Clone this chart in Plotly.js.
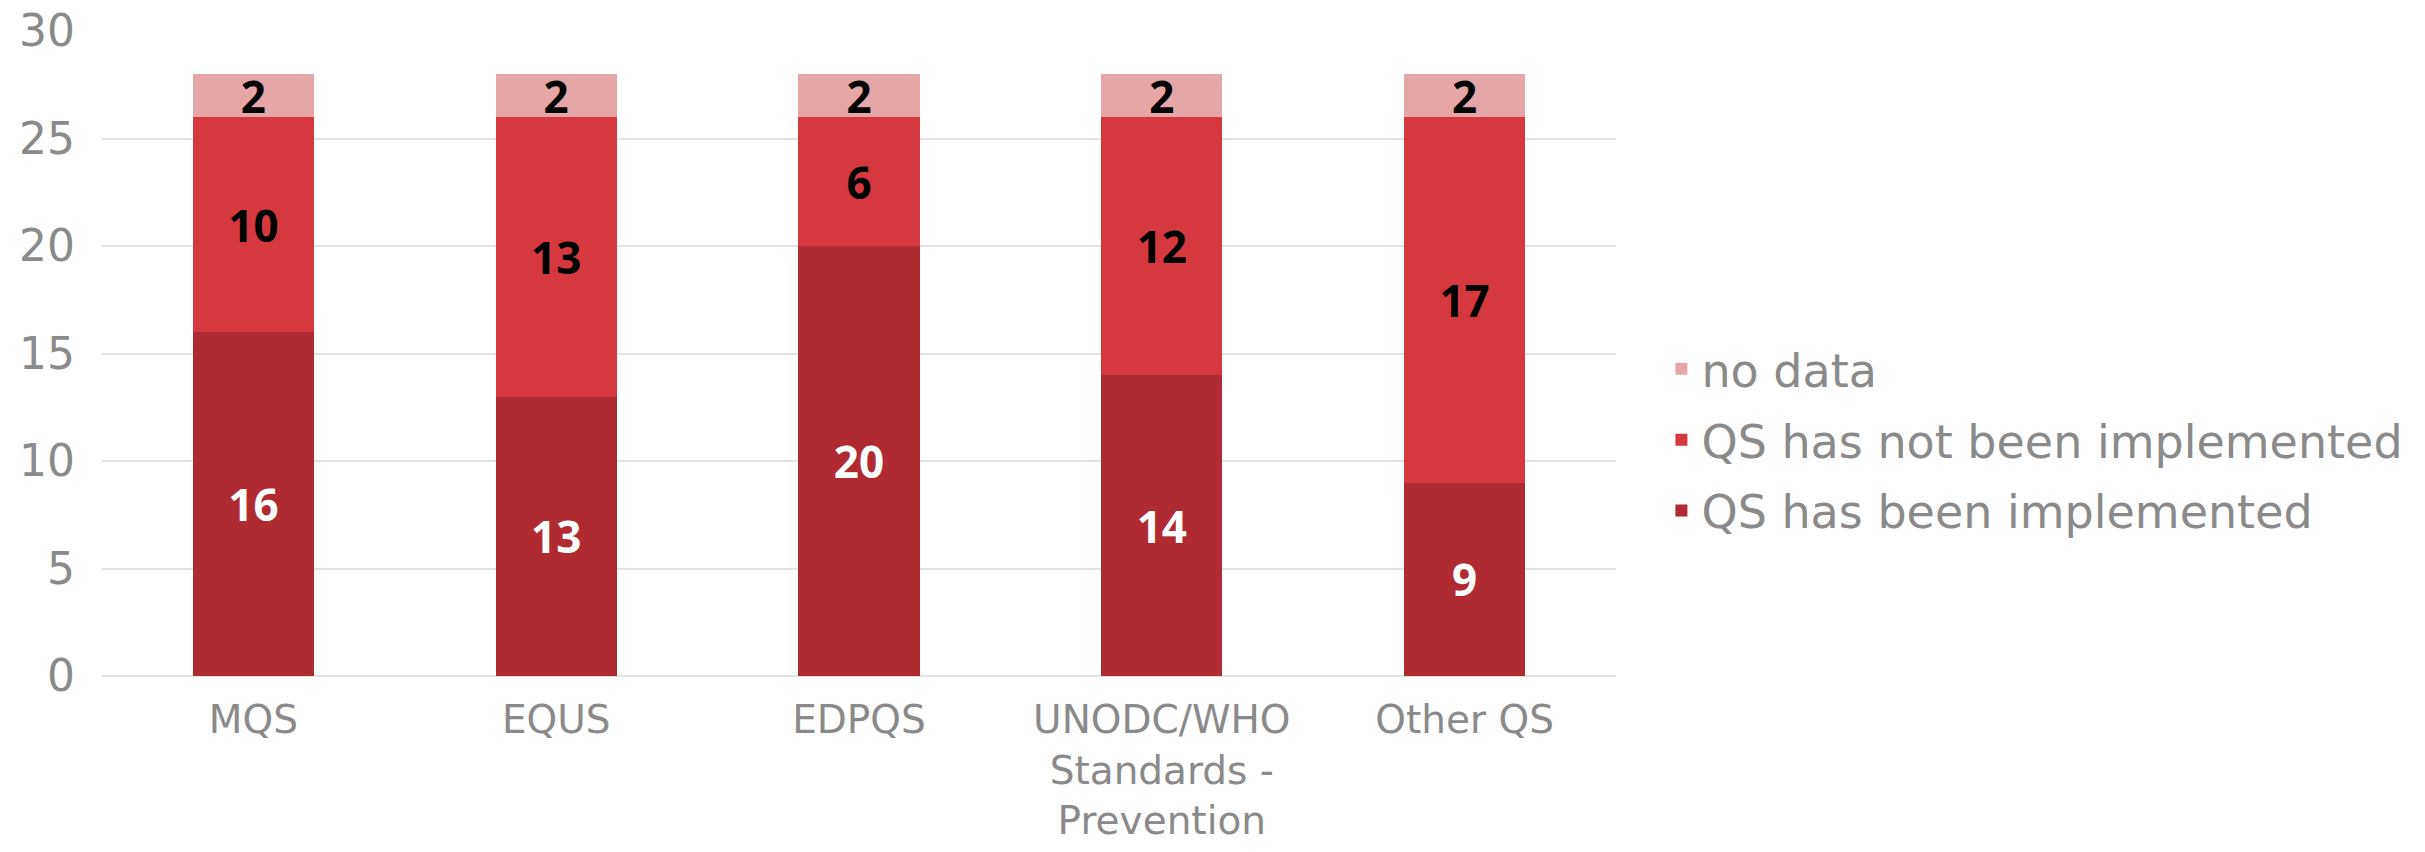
<!DOCTYPE html>
<html>
<head>
<meta charset="utf-8">
<script src="https://cdn.plot.ly/plotly-3.0.1.min.js"></script>
<style>html,body{margin:0;padding:0;background:#fff;}</style>
</head>
<body>
<div id="chart" style="width:2425px;height:852px;"></div>
<script>
const categories = ["MQS", "EQUS", "EDPQS", "UNODC/WHO<br>Standards -<br>Prevention", "Other QS"];
const implemented = [16, 13, 20, 14, 9];
const notImplemented = [10, 13, 6, 12, 17];
const noData = [2, 2, 2, 2, 2];
const seriesNames = ["QS has been implemented", "QS has not been implemented", "no data"];
const yTicks = [0, 5, 10, 15, 20, 25, 30];

const colors = ["#b02a31", "#d5393e", "#e6a6a8"];
const labelColors = ["#ffffff", "#000000", "#000000"];
const seriesValues = [implemented, notImplemented, noData];

const traces = seriesValues.map((vals, i) => ({
  type: "bar",
  name: seriesNames[i],
  legendgroup: "g" + i,
  legendrank: 1000 - i,
  x: categories,
  y: vals,
  text: vals.map(String),
  textposition: "inside",
  insidetextanchor: "middle",
  constraintext: "none",
  textangle: 0,
  textfont: {family: "Noto Sans", size: 44, color: labelColors[i], weight: "bold"},
  marker: {color: colors[i], line: {width: 0}},
  hoverinfo: "skip"
}));

const layout = {
  width: 2425,
  height: 852,
  barmode: "stack",
  bargap: 0.6,
  paper_bgcolor: "#ffffff",
  plot_bgcolor: "#ffffff",
  margin: {l: 102, r: 809, t: 31, b: 176, pad: 0},
  font: {family: "DejaVu Sans", color: "#8a8a8a", size: 40},
  xaxis: {
    type: "category",
    tickfont: {family: "DejaVu Sans", size: 39, color: "#8a8a8a"},
    showgrid: false,
    zeroline: false,
    showline: false,
    ticks: "",
    ticklabelstandoff: 17,
    automargin: false
  },
  yaxis: {
    range: [0, 30],
    tickvals: yTicks,
    ticktext: yTicks.map(String),
    tickfont: {family: "DejaVu Sans", size: 44, color: "#8a8a8a"},
    showgrid: true,
    gridcolor: "#e3e3e3",
    gridwidth: 2,
    zeroline: true,
    zerolinecolor: "#e3e3e3",
    zerolinewidth: 2,
    showline: false,
    ticks: "",
    ticklabelstandoff: 26,
    automargin: false
  },
  showlegend: true,
  legend: {
    x: 1.03,
    xanchor: "left",
    y: 0.366,
    yanchor: "middle",
    traceorder: "grouped",
    tracegroupgap: 8,
    font: {family: "DejaVu Sans", size: 46, color: "#8a8a8a"},
    bgcolor: "rgba(0,0,0,0)"
  }
};

Plotly.newPlot("chart", traces, layout, {displayModeBar: false, staticPlot: true});
</script>
</body>
</html>
